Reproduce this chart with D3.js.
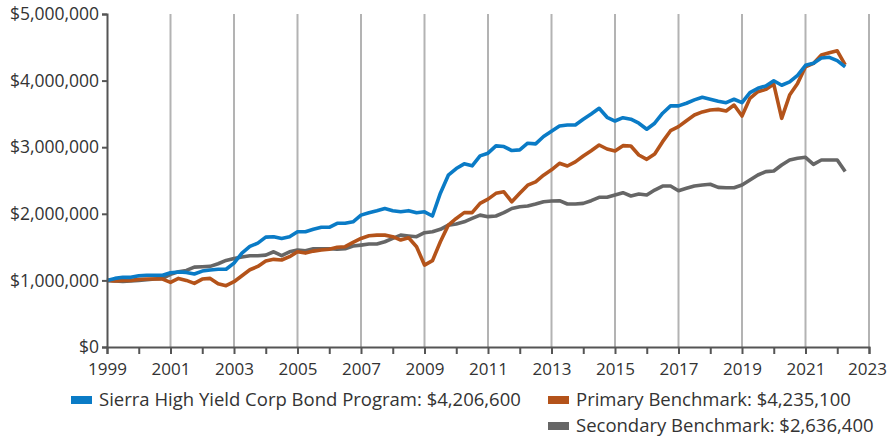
<!DOCTYPE html>
<html>
<head>
<meta charset="utf-8">
<script src="https://cdn.jsdelivr.net/npm/d3@7"></script>
<style>
  html, body { margin: 0; padding: 0; background: #fff; }
  svg { display: block; font-family: "Open Sans", "Noto Sans", sans-serif; }
</style>
</head>
<body>
<svg id="chart" width="888" height="439"></svg>
<script>
// Quarterly values in $ millions, 1999 Q0 .. 2022.25
const startYear = 1999;
const step = 0.25;

const sierra = [
  1.00, 1.03, 1.046, 1.046,
  1.07, 1.077, 1.077, 1.077,
  1.116, 1.126, 1.12, 1.096,
  1.14, 1.156, 1.167, 1.167,
  1.26, 1.41, 1.51, 1.56,
  1.65, 1.656, 1.63, 1.656,
  1.73, 1.73, 1.767, 1.797,
  1.797, 1.857, 1.857, 1.88,
  1.98, 2.017, 2.047, 2.08,
  2.047, 2.03, 2.047, 2.017,
  2.03, 1.967, 2.31, 2.58,
  2.68, 2.75, 2.72, 2.87,
  2.91, 3.02, 3.01, 2.95,
  2.96, 3.06, 3.05, 3.16,
  3.24, 3.318, 3.333, 3.333,
  3.419, 3.498, 3.584, 3.449,
  3.393, 3.443, 3.42, 3.36,
  3.27, 3.36, 3.51, 3.62,
  3.62, 3.66, 3.71, 3.75,
  3.72, 3.69, 3.668, 3.72,
  3.668, 3.82, 3.884, 3.92,
  3.998, 3.93, 3.98, 4.08,
  4.23, 4.26, 4.34, 4.35,
  4.30, 4.2066
];

const primary = [
  1.00, 0.99, 1.00, 1.00,
  1.015, 1.02, 1.02, 1.02,
  0.97, 1.03, 1.00, 0.956,
  1.02, 1.03, 0.95, 0.92,
  0.98, 1.07, 1.16, 1.21,
  1.29, 1.316, 1.306, 1.356,
  1.43, 1.41, 1.44, 1.456,
  1.467, 1.497, 1.506, 1.57,
  1.63, 1.67, 1.68, 1.68,
  1.656, 1.606, 1.64, 1.506,
  1.23, 1.296, 1.58, 1.83,
  1.93, 2.017, 2.017, 2.157,
  2.22, 2.307, 2.33, 2.18,
  2.307, 2.43, 2.48, 2.58,
  2.66, 2.758, 2.718, 2.78,
  2.868, 2.948, 3.033, 2.973,
  2.943, 3.023, 3.018, 2.883,
  2.818, 2.898, 3.083, 3.248,
  3.308, 3.398, 3.483, 3.53,
  3.558, 3.568, 3.543, 3.633,
  3.468, 3.733, 3.833, 3.868,
  3.948, 3.433, 3.783, 3.958,
  4.208, 4.258, 4.383, 4.418,
  4.448, 4.2351
];

const secondary = [
  1.00, 0.99, 0.985, 0.99,
  1.00, 1.01, 1.02, 1.03,
  1.09, 1.13, 1.15, 1.20,
  1.205, 1.21, 1.25, 1.30,
  1.33, 1.35, 1.37, 1.37,
  1.38, 1.43, 1.371, 1.43,
  1.456, 1.446, 1.476, 1.476,
  1.476, 1.467, 1.476, 1.516,
  1.53, 1.546, 1.546, 1.58,
  1.63, 1.68, 1.667, 1.656,
  1.716, 1.73, 1.767, 1.83,
  1.847, 1.88, 1.93, 1.98,
  1.957, 1.967, 2.017, 2.08,
  2.107, 2.117, 2.147, 2.182,
  2.192, 2.197, 2.147, 2.147,
  2.157, 2.197, 2.248, 2.248,
  2.282, 2.317, 2.267, 2.297,
  2.282, 2.357, 2.417, 2.417,
  2.347, 2.383, 2.417, 2.432,
  2.443, 2.397, 2.392, 2.392,
  2.432, 2.507, 2.583, 2.633,
  2.643, 2.733, 2.808, 2.833,
  2.848, 2.743, 2.808, 2.808,
  2.808, 2.6364
];

const seriesNames = [
  "Sierra High Yield Corp Bond Program: $4,206,600",
  "Primary Benchmark: $4,235,100",
  "Secondary Benchmark: $2,636,400"
];
const seriesColors = ["#0a7bc6", "#b4531a", "#666666"];
const yTicks = [0, 1e6, 2e6, 3e6, 4e6, 5e6];
const xLabelYears = [1999, 2001, 2003, 2005, 2007, 2009, 2011, 2013, 2015, 2017, 2019, 2021, 2023];

const svg = d3.select("#chart");
const x = d3.scaleLinear().domain([1999, 2023]).range([107, 869]);
const y = d3.scaleLinear().domain([0, 5e6]).range([347, 14]);

// vertical gridlines at odd years
svg.append("g").selectAll("line")
  .data(xLabelYears.filter(d => d > 1999))
  .join("line")
  .attr("x1", d => x(d)).attr("x2", d => x(d))
  .attr("y1", y(5e6)).attr("y2", y(0))
  .attr("stroke", "#b3b3b3").attr("stroke-width", 2);

// lines
const allSeries = [sierra, primary, secondary];
const line = d3.line()
  .x((d, i) => x(startYear + i * step))
  .y(d => y(d * 1e6));

// draw order: secondary, primary, sierra on top
[2, 1, 0].forEach(k => {
  svg.append("path")
    .datum(allSeries[k])
    .attr("fill", "none")
    .attr("stroke", seriesColors[k])
    .attr("stroke-width", 3.6)
    .attr("stroke-linejoin", "round")
    .attr("d", line);
});

// y axis
const yAxis = d3.axisLeft(y)
  .tickValues(yTicks)
  .tickSize(5)
  .tickPadding(3)
  .tickFormat(d => "$" + d3.format(",")(d));
const gy = svg.append("g").attr("transform", "translate(107,0)").call(yAxis);
gy.select(".domain").attr("stroke", "#555").attr("stroke-width", 2);
gy.selectAll(".tick line").attr("stroke", "#555").attr("stroke-width", 2);
gy.selectAll(".tick text").attr("fill", "#333").attr("font-size", 17.5)
  .attr("font-family", "'Open Sans', sans-serif");

// x axis
const xAxis = d3.axisBottom(x)
  .tickValues(d3.range(1999, 2024))
  .tickSize(7)
  .tickPadding(9)
  .tickFormat(d => xLabelYears.includes(d) ? String(d) : "");
const gx = svg.append("g").attr("transform", "translate(0,347)").call(xAxis);
gx.select(".domain").attr("stroke", "#555").attr("stroke-width", 2);
gx.selectAll(".tick line").attr("stroke", "#555").attr("stroke-width", 2);
gx.selectAll(".tick text").attr("fill", "#333").attr("font-size", 17)
  .attr("font-family", "'Open Sans', sans-serif");
// keep the last label inside the frame
gx.selectAll(".tick text").filter(d => d === 2023).attr("dx", -2);

// legend
const legendPos = [
  { x: 71, y: 400 },
  { x: 548, y: 400 },
  { x: 548, y: 426 }
];
seriesNames.forEach((name, k) => {
  const g = svg.append("g").attr("transform", `translate(${legendPos[k].x},${legendPos[k].y})`);
  g.append("rect").attr("x", 0).attr("y", -4).attr("width", 21).attr("height", 8)
    .attr("fill", seriesColors[k]);
  g.append("text").attr("x", 28).attr("y", 0).attr("dy", "0.35em")
    .attr("fill", "#333").attr("font-size", 18.5)
    .text(name);
});
</script>
</body>
</html>
